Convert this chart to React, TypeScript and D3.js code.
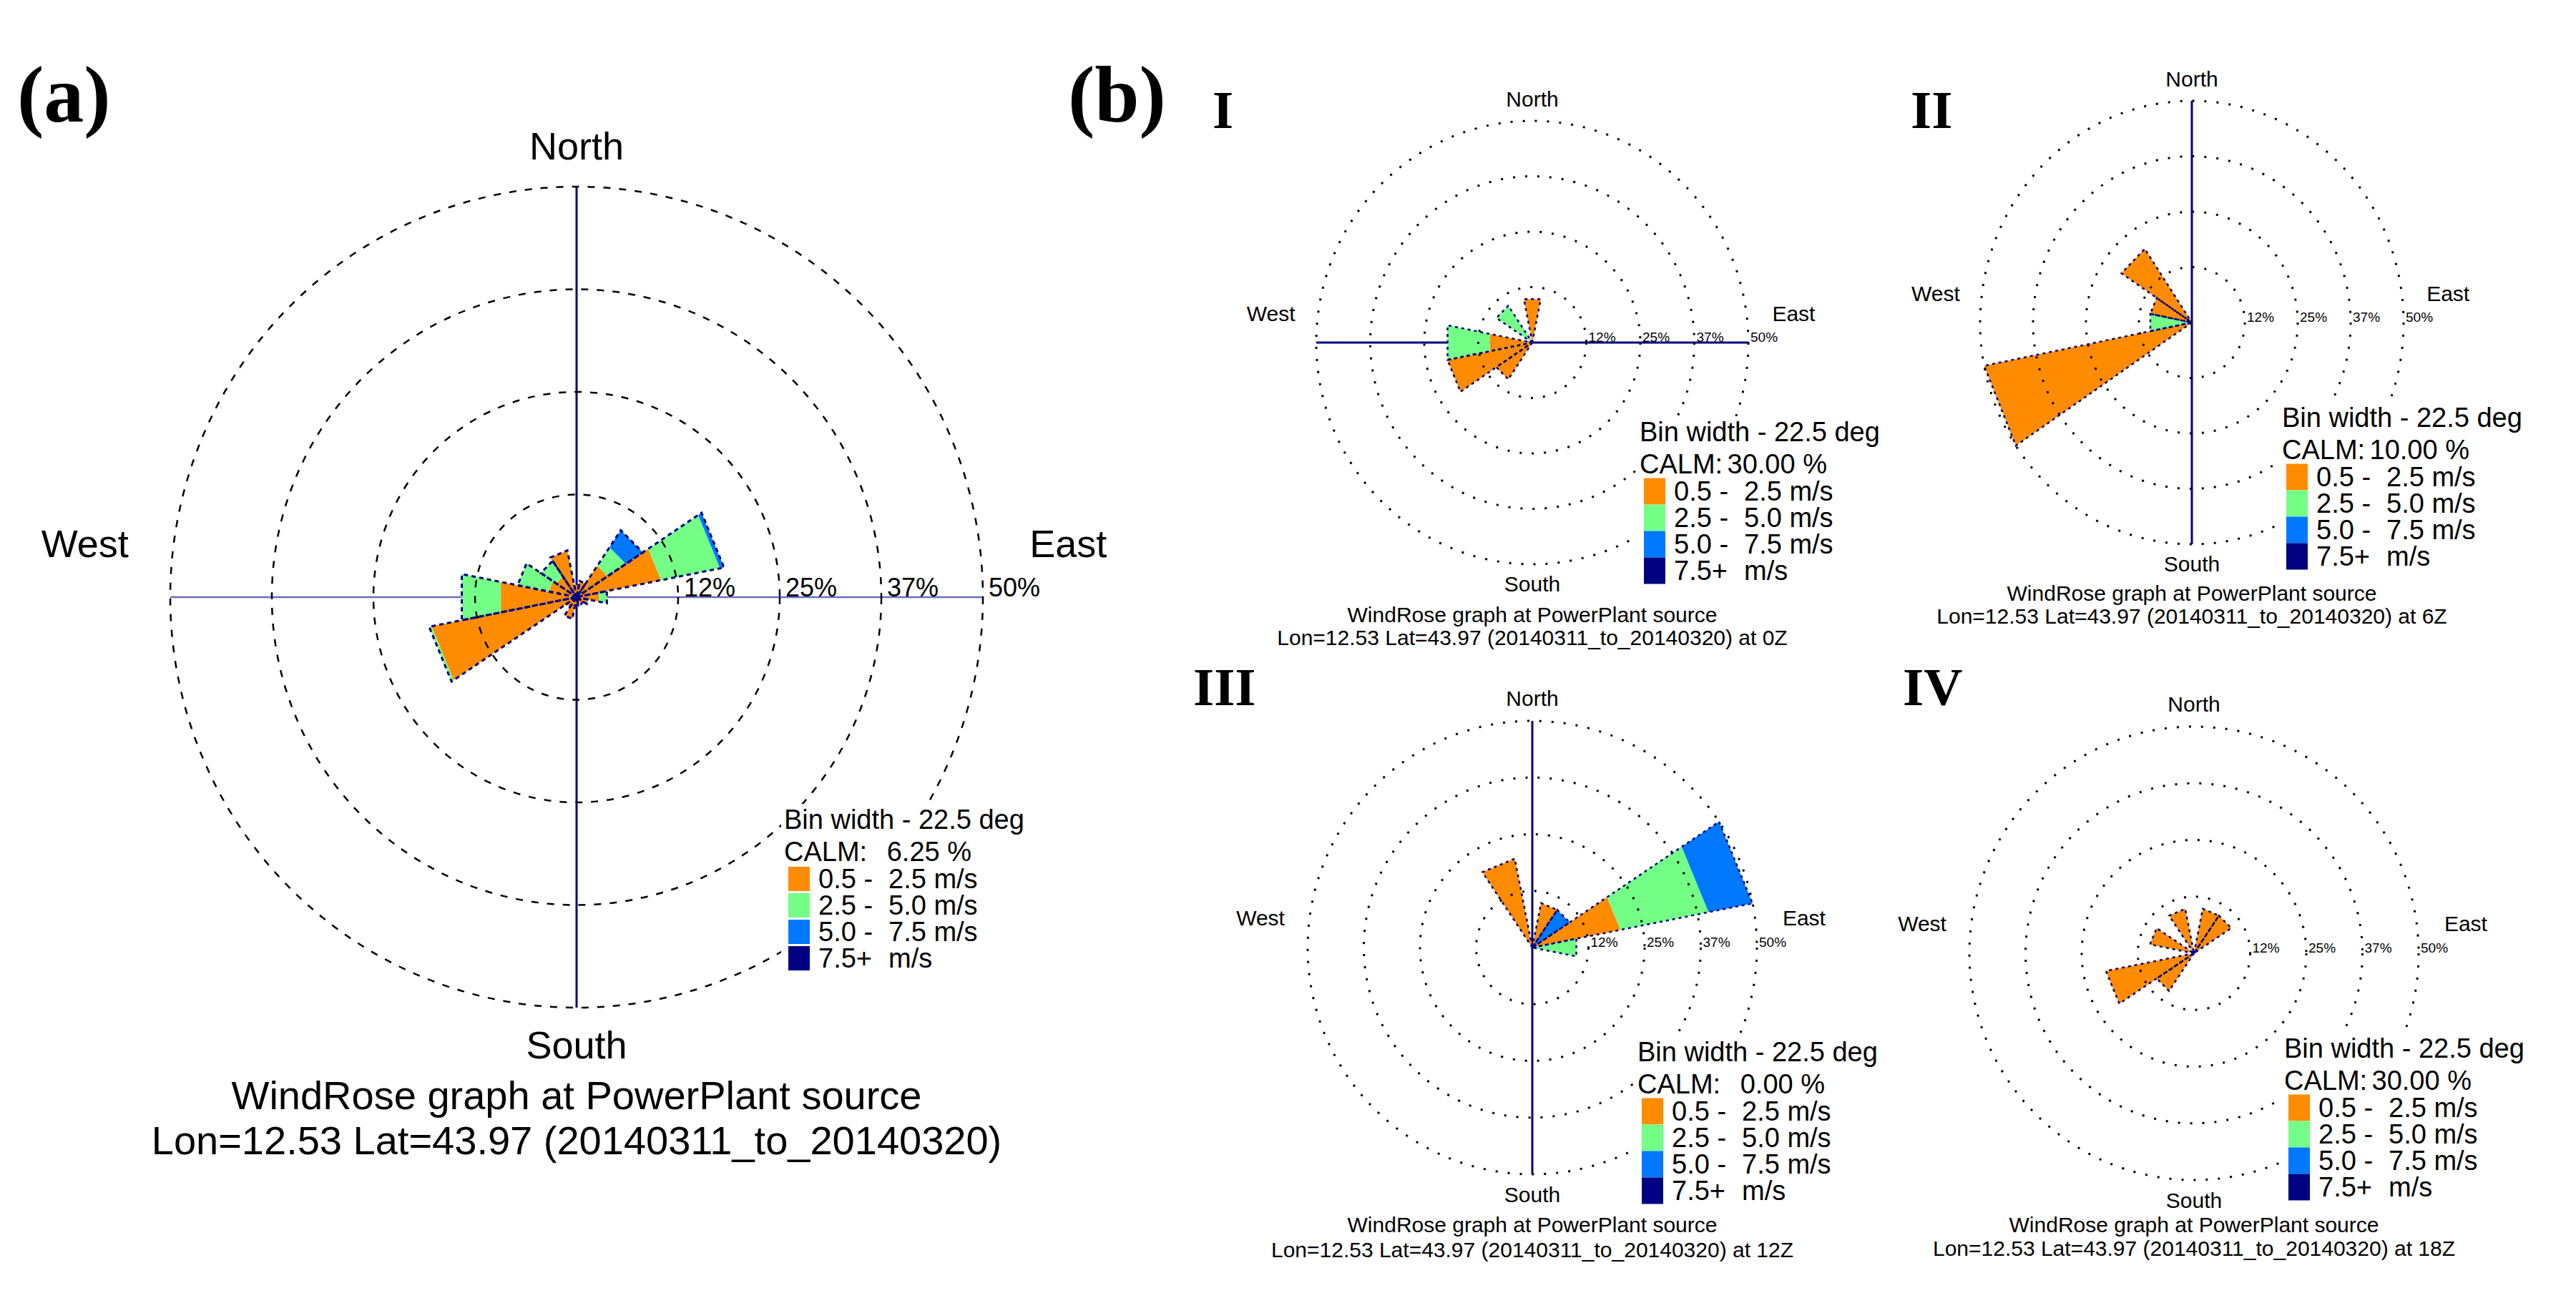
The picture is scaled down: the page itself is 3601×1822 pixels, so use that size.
import * as d3 from 'd3';
import React from 'react';

// compass sectors, clockwise from North, 22.5 deg bins
const directions = ['N', 'NNE', 'NE', 'ENE', 'E', 'ESE', 'SE', 'SSE', 'S', 'SSW', 'SW', 'WSW', 'W', 'WNW', 'NW', 'NNW'];
const speedFrom = ['0.5 -', '2.5 -', '5.0 -', '7.5+'];
const speedTo = ['2.5 m/s', '5.0 m/s', '7.5 m/s', 'm/s'];
const ringValues = [12.5, 25, 37.5, 50];
const ringLabels = ['12%', '25%', '37%', '50%'];

// (a) all hours, frequency % per sector
const allSlow = [1.5, 2.0, 4.6, 10.6, 2.8, 1.5, 1.0, 0.8, 1.0, 2.7, 1.5, 18.2, 9.5, 3.5, 3.0, 5.8];
const allMid = [0, 0, 2.7, 7.4, 1.0, 0, 0, 0, 0, 0, 0, 0.3, 4.9, 3.9, 2.3, 0];
const allFast = [0, 0, 2.5, 0.5, 0, 0, 0, 0, 0, 0, 0, 0, 0, 0, 0, 0];
const allStrong = [0, 0, 0, 0, 0, 0, 0, 0, 0, 0, 0, 0, 0, 0, 0, 0];

// (b) I - 0Z
const h00Slow = [10, 0, 0, 0, 0, 0, 0, 0, 0, 0, 10, 20, 10, 0, 0, 0];
const h00Mid = [0, 0, 0, 0, 0, 0, 0, 0, 0, 0, 0, 0, 10, 0, 10, 0];
// (b) II - 6Z
const h06Slow = [0, 0, 0, 0, 0, 0, 0, 0, 0, 0, 0, 50, 0, 10, 20, 0];
const h06Mid = [0, 0, 0, 0, 0, 0, 0, 0, 0, 0, 0, 0, 10, 0, 0, 0];
// (b) III - 12Z
const h12Slow = [0, 10, 0, 20, 0, 0, 0, 0, 0, 0, 0, 0, 0, 0, 0, 20];
const h12Mid = [0, 0, 0, 20, 10, 0, 0, 0, 0, 0, 0, 0, 0, 0, 0, 0];
const h12Fast = [0, 0, 10, 10, 0, 0, 0, 0, 0, 0, 0, 0, 0, 0, 0, 0];
// (b) IV - 18Z
const h18Slow = [0, 10, 10, 0, 0, 0, 0, 0, 0, 0, 10, 20, 0, 10, 0, 10];
const zeros = directions.map(() => 0);

const calmValues = ['6.25', '30.00', '10.00', '0.00', '30.00'];
const hourTags = ['', ' at 0Z', ' at 6Z', ' at 12Z', ' at 18Z'];

const colors = ['#FF8C00', '#74FF87', '#0078FF', '#000080'];
const navy = '#000080';
const sans = '"Liberation Sans", Arial, Helvetica, sans-serif';
const serif = '"Liberation Serif", "Times New Roman", serif';

interface RoseProps {
	series: number[][];
	calm: string;
	tag: string;
	cx: number;
	cy: number;
	rx: number;
	ry: number;
	big: boolean;
	hAxis: string | null;
	vAxis: string | null;
	legendX: number;
	legendY: number;
	titleY: number;
	titleGap: number;
}

const Rose = (p: RoseProps) => {
	const { cx, cy, rx, ry, big } = p;
	const r = d3.scaleLinear().domain([0, 50]).range([0, 1]);
	const half = 11.25;
	const pt = (v: number, deg: number): [number, number] => {
		const a = (deg * Math.PI) / 180;
		return [cx + r(v) * rx * Math.sin(a), cy - r(v) * ry * Math.cos(a)];
	};
	const line = d3.line();

	const compassSize = big ? 54 : 30;
	const pctSize = big ? 36 : 19;
	const legSize = 38;
	const rowH = big ? 37 : 37;
	const swH = big ? 34 : 37;

	const petals: any[] = [];
	const outlines: any[] = [];
	directions.forEach((dname, i) => {
		const th = i * 22.5;
		let cum = 0;
		p.series.forEach((s, k) => {
			const v = s[i];
			if (v > 0) {
				const pts = [pt(cum, th - half), pt(cum + v, th - half), pt(cum + v, th + half), pt(cum, th + half)];
				petals.push(<path key={`${dname}-${k}`} d={line(pts) + 'Z'} fill={colors[k]} stroke="none" />);
			}
			cum += v;
		});
		if (cum > 0) {
			const pts = [pt(0, 0), pt(cum, th - half), pt(cum, th + half)];
			outlines.push(
				<path
					key={`o-${dname}`}
					d={line(pts) + 'Z'}
					fill="none"
					stroke={navy}
					strokeWidth={big ? 3 : 2.5}
					strokeDasharray={big ? '6 5' : '4 5'}
				/>
			);
		}
	});

	const lx = p.legendX;
	const ly = p.legendY;

	return (
		<g>
			{p.hAxis && (
				<line x1={cx - rx} x2={cx + rx} y1={cy} y2={cy} stroke={p.hAxis} strokeWidth={big ? 2.5 : 3} />
			)}
			{p.vAxis && <line x1={cx} x2={cx} y1={cy - ry} y2={cy + ry} stroke={p.vAxis} strokeWidth={3} />}
			{petals}
			{outlines}
			{ringValues.map(v => (
				<ellipse
					key={v}
					cx={cx}
					cy={cy}
					rx={r(v) * rx}
					ry={r(v) * ry}
					fill="none"
					stroke="#000"
					strokeWidth={big ? 2.5 : 3}
					strokeDasharray={big ? '10 12' : '3 14'}
				/>
			))}
			{ringValues.map((v, i) => (
				<text
					key={'l' + v}
					x={cx + r(v) * rx + (big ? 8 : 3)}
					y={cy - 1}
					fontSize={pctSize}
					fontFamily={sans}
					fill="#000"
				>
					{ringLabels[i]}
				</text>
			))}
			<g fontFamily={sans} fontSize={compassSize} textAnchor="middle" dominantBaseline="central">
				<text x={cx} y={cy - 1.1 * ry}>North</text>
				<text x={cx} y={cy + 1.09 * ry}>South</text>
				<text x={cx - 1.21 * rx} y={cy - 0.13 * ry}>West</text>
				<text x={cx + 1.21 * rx} y={cy - 0.13 * ry}>East</text>
			</g>
			{/* legend sits on a white box that hides the rings behind it */}
			<rect x={lx - 4} y={ly - 22} width={big ? 380 : 360} height={83 + rowH * 3 + 42} fill="#fff" />
			<g fontFamily={sans} fontSize={legSize} dominantBaseline="central">
				<text x={lx} y={ly}>Bin width - 22.5 deg</text>
				<text x={lx} y={ly + 45}>CALM:</text>
				<text x={lx + 262} y={ly + 45} textAnchor="end">{`${p.calm} %`}</text>
				{speedFrom.map((s, k) => (
					<g key={s}>
						<rect x={lx + 6} y={ly + 83 + rowH * k - swH / 2} width={30} height={swH} fill={colors[k]} />
						<text x={lx + 48} y={ly + 83 + rowH * k}>{s}</text>
						<text x={lx + 146} y={ly + 83 + rowH * k}>{speedTo[k]}</text>
					</g>
				))}
			</g>
			<g fontFamily={sans} fontSize={big ? 56 : 30} textAnchor="middle" dominantBaseline="central">
				<text x={cx} y={p.titleY}>WindRose graph at PowerPlant source</text>
				<text x={cx} y={p.titleY + p.titleGap}>{`Lon=12.53 Lat=43.97 (20140311_to_20140320)${p.tag}`}</text>
			</g>
		</g>
	);
};

export default function App() {
	return (
		<svg
			width={3601}
			height={1822}
			viewBox="0 0 3601 1822"
			style={{ position: 'absolute', left: 0, top: 0, display: 'block' }}
		>
			<rect x={0} y={0} width={3601} height={1822} fill="#fff" />
			<g fontFamily={serif} fontWeight="bold" fill="#000">
				<text x={24} y={170} fontSize={112}>(a)</text>
				<text x={1493} y={170} fontSize={112}>(b)</text>
				<text x={1695} y={179} fontSize={75}>I</text>
				<text x={2671} y={179} fontSize={75}>II</text>
				<text x={1668} y={986} fontSize={75}>III</text>
				<text x={2660} y={986} fontSize={75}>IV</text>
			</g>
			<Rose
				series={[allSlow, allMid, allFast, allStrong]}
				calm={calmValues[0]}
				tag={hourTags[0]}
				cx={806}
				cy={835}
				rx={568}
				ry={574}
				big={true}
				hAxis="#6b6bc4"
				vAxis={navy}
				legendX={1096}
				legendY={1146}
				titleY={1531}
				titleGap={63}
			/>
			<Rose
				series={[h00Slow, h00Mid, zeros, zeros]}
				calm={calmValues[1]}
				tag={hourTags[1]}
				cx={2142}
				cy={479}
				rx={302}
				ry={310}
				big={false}
				hAxis={navy}
				vAxis={null}
				legendX={2292}
				legendY={604}
				titleY={859}
				titleGap={32}
			/>
			<Rose
				series={[h06Slow, h06Mid, zeros, zeros]}
				calm={calmValues[2]}
				tag={hourTags[2]}
				cx={3064}
				cy={451}
				rx={296}
				ry={310}
				big={false}
				hAxis={null}
				vAxis={navy}
				legendX={3190}
				legendY={584}
				titleY={829}
				titleGap={32}
			/>
			<Rose
				series={[h12Slow, h12Mid, h12Fast, zeros]}
				calm={calmValues[3]}
				tag={hourTags[3]}
				cx={2142}
				cy={1325}
				rx={314}
				ry={317}
				big={false}
				hAxis={null}
				vAxis={navy}
				legendX={2289}
				legendY={1471}
				titleY={1712}
				titleGap={35}
			/>
			<Rose
				series={[h18Slow, zeros, zeros, zeros]}
				calm={calmValues[4]}
				tag={hourTags[4]}
				cx={3067}
				cy={1333}
				rx={314}
				ry={317}
				big={false}
				hAxis={null}
				vAxis={null}
				legendX={3193}
				legendY={1466}
				titleY={1712}
				titleGap={33}
			/>
		</svg>
	);
}
